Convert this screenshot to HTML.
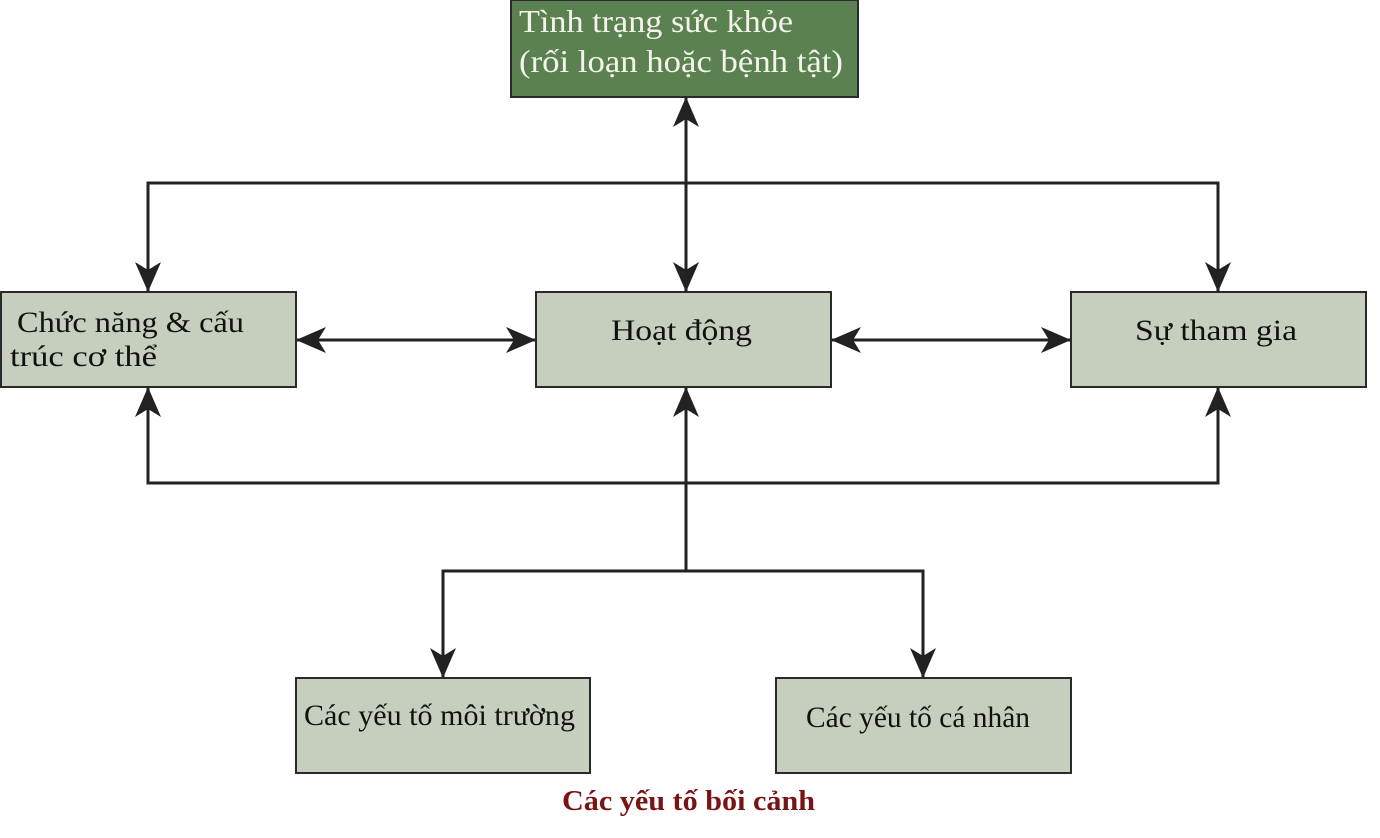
<!DOCTYPE html>
<html><head><meta charset="utf-8"><style>
html,body{margin:0;padding:0;background:#fff;}
svg{display:block;}
text{font-family:"Liberation Serif","DejaVu Serif",serif;}
</style></head><body>
<svg width="1380" height="838" viewBox="0 0 1380 838" xmlns="http://www.w3.org/2000/svg">
<defs>
<marker id="ah" viewBox="0 0 30 26" refX="29" refY="13" markerWidth="30" markerHeight="26" markerUnits="userSpaceOnUse" orient="auto-start-reverse">
<path d="M0,0 L30,13 L0,26 L8,13 Z" fill="#222"/>
</marker>
</defs>
<g fill="#c6cfbe" stroke="#2a2a2a" stroke-width="2">
<rect x="511" y="0" width="347" height="97" fill="#5b8150"/>
<rect x="1" y="292" width="295" height="95"/>
<rect x="536" y="292" width="295" height="95"/>
<rect x="1071" y="292" width="295" height="95"/>
<rect x="296" y="678" width="294" height="95"/>
<rect x="776" y="678" width="295" height="95"/>
</g>
<g stroke="#222" stroke-width="3" fill="none">
<line x1="686" y1="183" x2="686" y2="98" marker-end="url(#ah)"/>
<line x1="686" y1="183" x2="686" y2="291" marker-end="url(#ah)"/>
<polyline points="148,291 148,183 1218,183 1218,291" marker-start="url(#ah)" marker-end="url(#ah)"/>
<polyline points="148,388 148,483 1218,483 1218,388" marker-start="url(#ah)" marker-end="url(#ah)"/>
<line x1="686" y1="571" x2="686" y2="388" marker-end="url(#ah)"/>
<polyline points="443,677 443,571 923,571 923,677" marker-start="url(#ah)" marker-end="url(#ah)"/>
<line x1="297" y1="340" x2="535" y2="340" marker-start="url(#ah)" marker-end="url(#ah)"/>
<line x1="832" y1="340" x2="1070" y2="340" marker-start="url(#ah)" marker-end="url(#ah)"/>
</g>
<g fill="#f4f4ec" font-size="32">
<text x="519" y="32" textLength="274" lengthAdjust="spacingAndGlyphs">Tình trạng sức khỏe</text>
<text x="519" y="72" textLength="324" lengthAdjust="spacingAndGlyphs">(rối loạn hoặc bệnh tật)</text>
</g>
<g fill="#111" font-size="30">
<text x="17" y="332" textLength="227" lengthAdjust="spacingAndGlyphs">Chức năng &amp; cấu</text>
<text x="10" y="366" textLength="147" lengthAdjust="spacingAndGlyphs">trúc cơ thể</text>
<text x="611" y="340" textLength="141" lengthAdjust="spacingAndGlyphs">Hoạt động</text>
<text x="1135" y="340" textLength="162" lengthAdjust="spacingAndGlyphs">Sự tham gia</text>
<text x="304" y="725" textLength="271" lengthAdjust="spacingAndGlyphs">Các yếu tố môi trường</text>
<text x="806" y="727" textLength="224" lengthAdjust="spacingAndGlyphs">Các yếu tố cá nhân</text>
</g>
<text x="562" y="810" font-size="28" font-weight="bold" fill="#7a1414" textLength="253" lengthAdjust="spacingAndGlyphs">Các yếu tố bối cảnh</text>
</svg>
</body></html>
